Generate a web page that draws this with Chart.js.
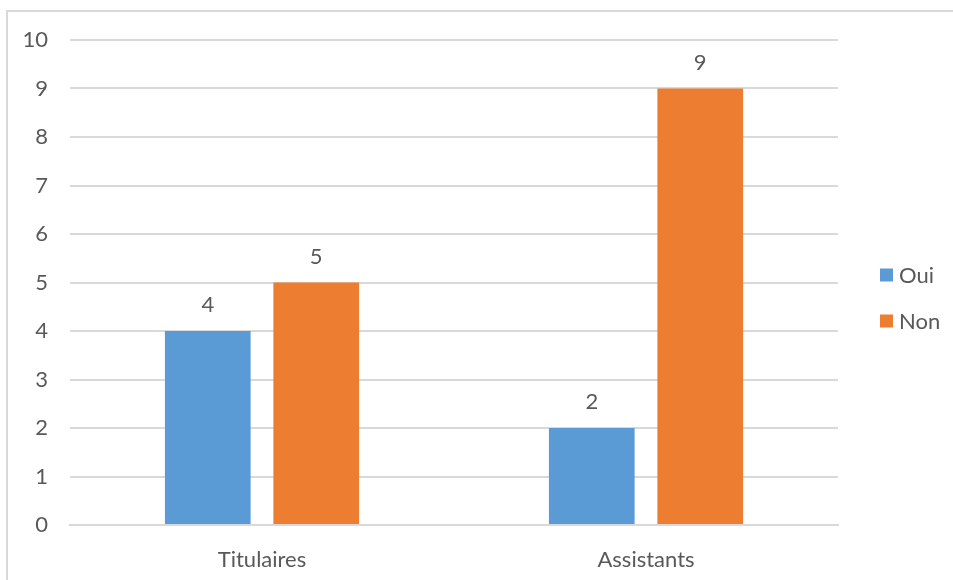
<!DOCTYPE html>
<html>
<head>
<meta charset="utf-8">
<script src="https://cdn.jsdelivr.net/npm/chart.js@4"></script>
<style>
  html, body { margin: 0; padding: 0; background: #fff; }
  #wrap { position: relative; width: 953px; height: 580px; overflow: hidden; }
  #frame { position: absolute; left: 6px; top: 10px; width: 960px; height: 600px;
           border-left: 2px solid #d9d9d9; border-top: 2px solid #d9d9d9; box-sizing: border-box; }
  canvas { position: absolute; left: 0; top: 0; }
</style>
</head>
<body>
<div id="wrap">
  <div id="frame"></div>
  <canvas id="c" width="953" height="580"></canvas>
</div>
<script>
// Répartition des réponses par statut
const categories = ['Titulaires', 'Assistants'];
const seriesNames = ['Oui', 'Non'];
const ouiValues = [4, 2];
const nonValues = [5, 9];
const yTicks = [0, 1, 2, 3, 4, 5, 6, 7, 8, 9, 10];

const FONT = 'Lato, "Open Sans", sans-serif';
const TEXT = '#595959';

// value labels above each bar
const barLabels = {
  id: 'barLabels',
  afterDatasetsDraw(chart) {
    const ctx = chart.ctx;
    ctx.save();
    ctx.font = '22px ' + FONT;
    ctx.fillStyle = TEXT;
    ctx.textAlign = 'center';
    ctx.textBaseline = 'middle';
    chart.data.datasets.forEach((ds, i) => {
      chart.getDatasetMeta(i).data.forEach((bar, j) => {
        ctx.fillText(String(ds.data[j]), bar.x, bar.y - 26);
      });
    });
    ctx.restore();
  }
};

// legend on the right side
const sideLegend = {
  id: 'sideLegend',
  afterDraw(chart) {
    const ctx = chart.ctx;
    ctx.save();
    ctx.font = '22px ' + FONT;
    ctx.textBaseline = 'middle';
    ctx.textAlign = 'left';
    chart.data.datasets.forEach((ds, i) => {
      const cy = 275 + i * 46;
      ctx.fillStyle = ds.backgroundColor;
      ctx.fillRect(880, cy - 6.5, 13, 13);
      ctx.fillStyle = TEXT;
      ctx.fillText(ds.label, 899, cy + 1);
    });
    ctx.restore();
  }
};

new Chart(document.getElementById('c'), {
  type: 'bar',
  data: {
    labels: categories,
    datasets: [
      { label: seriesNames[0], data: ouiValues, backgroundColor: '#5b9bd5',
        categoryPercentage: 0.565, barPercentage: 0.79 },
      { label: seriesNames[1], data: nonValues, backgroundColor: '#ed7d31',
        categoryPercentage: 0.565, barPercentage: 0.79 }
    ]
  },
  options: {
    responsive: false,
    animation: false,
    layout: { padding: { top: 40, right: 115, left: 0, bottom: 0 } },
    plugins: { legend: { display: false }, tooltip: { enabled: false } },
    scales: {
      x: {
        grid: { display: false },
        border: { display: true, color: '#d9d9d9', width: 2 },
        ticks: { color: TEXT, font: { family: FONT, size: 22 }, padding: 14 },
        afterFit(s) { s.height = 55; }
      },
      y: {
        min: 0, max: 10,
        afterBuildTicks(s) { s.ticks = yTicks.map(v => ({ value: v })); },
        grid: { color: '#d9d9d9', lineWidth: 2, drawTicks: false },
        border: { display: false },
        ticks: { color: TEXT, font: { family: FONT, size: 22 }, padding: 22 },
        afterFit(s) { s.width = 70; }
      }
    }
  },
  plugins: [barLabels, sideLegend]
});
</script>
</body>
</html>
